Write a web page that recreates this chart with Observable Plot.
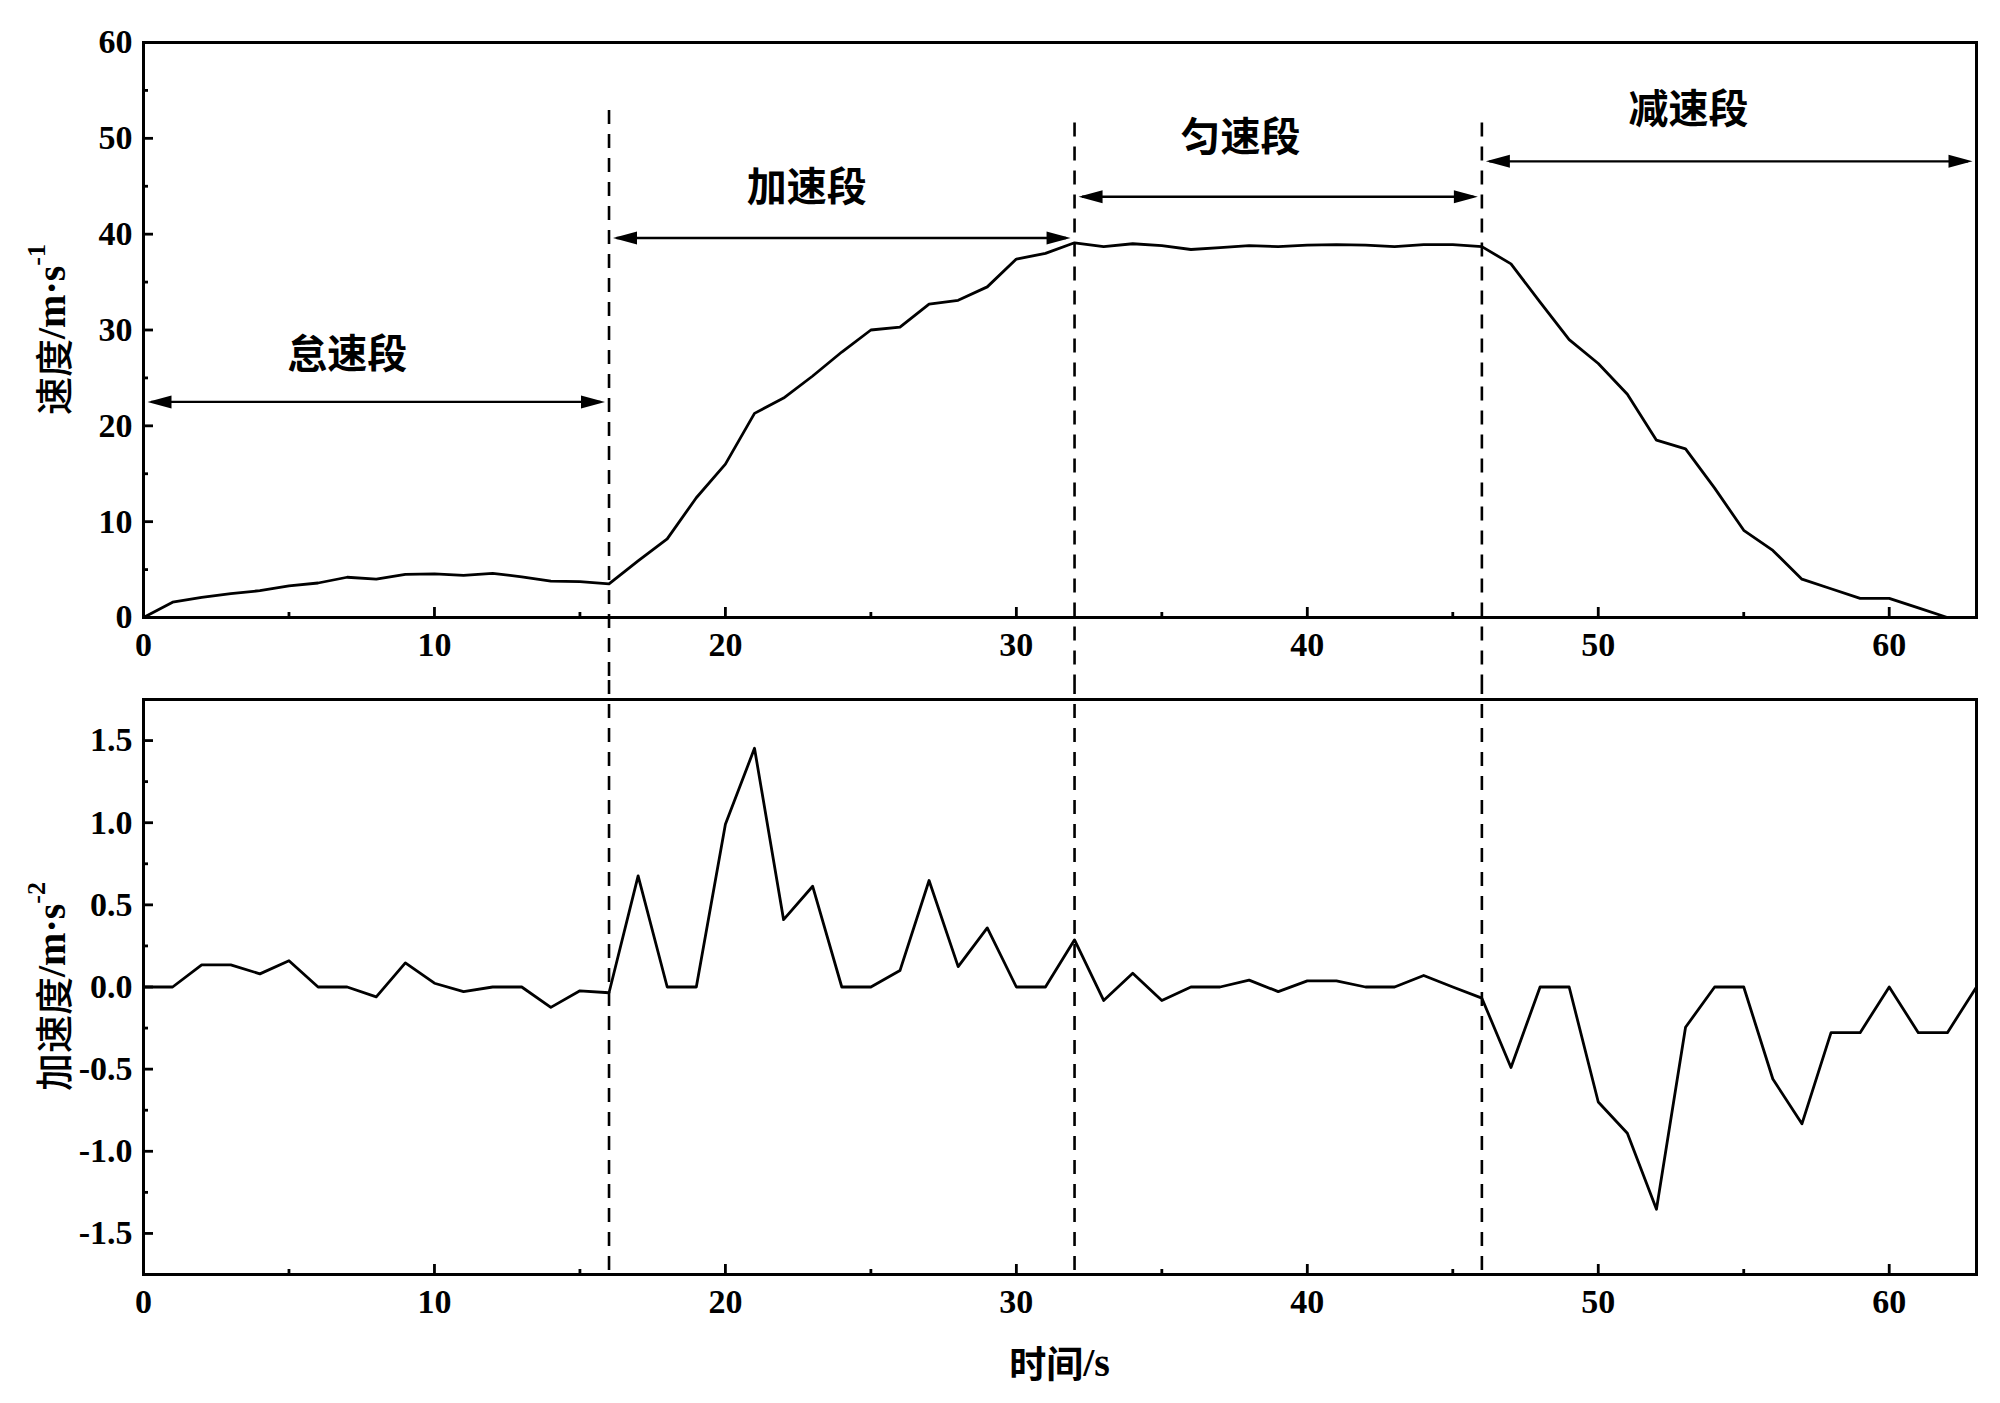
<!DOCTYPE html>
<html>
<head>
<meta charset="utf-8">
<script src="https://cdn.jsdelivr.net/npm/d3@7"></script>
<script src="https://cdn.jsdelivr.net/npm/@observablehq/plot@0.6"></script>
<style>
html, body { margin: 0; padding: 0; background: #fff; }
#chart { width: 2000px; height: 1403px; }
#chart svg { display: block; }
</style>
</head>
<body>
<div id="chart"></div>
<script>
// ---- data ----
const speedTime = [0,1,2,3,4,5,6,7,8,9,10,11,12,13,14,15,16,17,18,19,20,21,22,23,24,25,26,27,28,29,30,31,32,33,34,35,36,37,38,39,40,41,42,43,44,45,46,47,48,49,50,51,52,53,54,55,56,57,58,59,60,61,62];
const speed = [0,1.6,2.1,2.5,2.8,3.3,3.6,4.2,4.0,4.5,4.55,4.4,4.6,4.25,3.8,3.75,3.5,5.9,8.2,12.5,16.0,21.3,22.9,25.2,27.7,30.0,30.3,32.7,33.1,34.5,37.4,38.0,39.1,38.7,39.0,38.8,38.4,38.6,38.8,38.7,38.85,38.9,38.85,38.7,38.9,38.9,38.7,36.9,32.9,29.0,26.5,23.3,18.5,17.6,13.5,9.1,7.0,4.0,3.0,2.0,2.0,1.0,0];
const accelTime = [0,1,2,3,4,5,6,7,8,9,10,11,12,13,14,15,16,17,18,19,20,21,22,23,24,25,26,27,28,29,30,31,32,33,34,35,36,37,38,39,40,41,42,43,44,45,46,47,48,49,50,51,52,53,54,55,56,57,58,59,60,61,62,63];
const accel = [0,0,0.135,0.135,0.08,0.16,0,0,-0.06,0.147,0.023,-0.028,0,0,-0.124,-0.023,-0.035,0.676,0,0,0.99,1.453,0.41,0.613,0,0,0.10,0.648,0.124,0.36,0,0,0.287,-0.082,0.084,-0.082,0,0,0.042,-0.028,0.037,0.037,0,0,0.07,0.0,-0.068,-0.49,0,0,-0.70,-0.89,-1.353,-0.245,0,0,-0.56,-0.833,-0.278,-0.278,0,-0.278,-0.278,0];

const phaseNames = ["怠速段","加速段","匀速段","减速段"];
const phaseStart = [0,16,32,46];
const phaseEnd = [16,32,46,63];
const phaseLabelX = [7.0,22.8,37.7,53.1];
const phaseLabelY = [27.4,44.8,50.0,52.9];
const phaseArrowY = [22.5,39.6,43.9,47.6];

const boundaryX = [16,32,46];
const boundaryTop = [52.9,51.6,51.6];

const xMajor = [0,10,20,30,40,50,60];
const xMinor = [5,15,25,35,45,55];
const yMajorTop = [0,10,20,30,40,50,60];
const yMinorTop = [5,15,25,35,45,55];
const yMajorBot = [-1.5,-1.0,-0.5,0,0.5,1.0,1.5];
const yMinorBot = [-1.25,-0.75,-0.25,0.25,0.75,1.25];

const xDomain = [0,63];
const yDomainTop = [0,60];
const yDomainBot = [-1.75,1.75];

const yTitleTop = ["速度", "/m·s", "-1"];
const yTitleBot = ["加速度", "/m·s", "-2"];
const xTitle = ["时间", "/s"];

// ---- tables ----
const speedRows = speedTime.map((t, i) => ({t, v: speed[i]}));
const accelRows = accelTime.map((t, i) => ({t, v: accel[i]}));
const phaseRows = phaseNames.map((name, i) => ({
  name, start: phaseStart[i], end: phaseEnd[i],
  lx: phaseLabelX[i], ly: phaseLabelY[i], ay: phaseArrowY[i]
}));
const boundaryRows = boundaryX.map((x, i) => ({x, top: boundaryTop[i]}));

// ---- layout ----
const W = 2000;
const ML = 143, MR = 24;
const frameW = W - ML - MR;
const H1 = 680, MT1 = 42, MB1 = 63;
const H2 = 1403 - H1, MT2 = 19, MB2 = 129;
const frameH = 575;
const majorLen = 10, minorLen = 5;
const serif = "'Liberation Serif', 'Times New Roman', serif";
const cjk = "'Noto Sans CJK SC', sans-serif";

const arrowRight = {draw(ctx) { ctx.moveTo(0, 0); ctx.lineTo(-24, -6.5); ctx.lineTo(-24, 6.5); ctx.closePath(); }};
const arrowLeft = {draw(ctx) { ctx.moveTo(0, 0); ctx.lineTo(24, -6.5); ctx.lineTo(24, 6.5); ctx.closePath(); }};

const tickText = {fontSize: 34, fontWeight: "bold", fontFamily: serif, label: null};

function tickMarks(yMajor, yMinor, fh) {
  return [
    Plot.ruleX(xMajor, {x: d => d, insetTop: fh - majorLen, stroke: "#000", strokeWidth: 2.8}),
    Plot.ruleX(xMinor, {x: d => d, insetTop: fh - minorLen, stroke: "#000", strokeWidth: 2.8}),
    Plot.ruleY(yMajor, {y: d => d, insetRight: frameW - majorLen, stroke: "#000", strokeWidth: 2.8}),
    Plot.ruleY(yMinor, {y: d => d, insetRight: frameW - minorLen, stroke: "#000", strokeWidth: 2.8})
  ];
}

const topPlot = Plot.plot({
  width: W, height: H1,
  marginTop: MT1, marginBottom: MB1, marginLeft: ML, marginRight: MR,
  x: {domain: xDomain},
  y: {domain: yDomainTop},
  style: {background: "#fff", color: "#000", fontFamily: serif},
  marks: [
    Plot.axisX(xMajor, {...tickText, tickSize: 0, tickPadding: 14, tickFormat: d => String(d)}),
    Plot.axisY(yMajorTop, {...tickText, tickSize: 0, tickPadding: 11, tickFormat: d => String(d)}),
    ...tickMarks(yMajorTop, yMinorTop, frameH),
    Plot.ruleX(boundaryRows, {x: "x", y1: "top", y2: 0, insetBottom: -MB1, stroke: "#000", strokeWidth: 2.6, strokeDasharray: "14,10"}),
    Plot.ruleY(phaseRows, {y: "ay", x1: "start", x2: "end", insetLeft: 8, insetRight: 8, stroke: "#000", strokeWidth: 2.4}),
    Plot.dot(phaseRows, {x: "start", y: "ay", symbol: arrowLeft, fill: "#000", stroke: "none", dx: 4}),
    Plot.dot(phaseRows, {x: "end", y: "ay", symbol: arrowRight, fill: "#000", stroke: "none", dx: -4}),
    Plot.text(phaseRows, {x: "lx", y: "ly", text: "name", fontSize: 40, fontWeight: "bold", fontFamily: cjk, fill: "#000"}),
    Plot.line(speedRows, {x: "t", y: "v", stroke: "#000", strokeWidth: 2.8}),
    Plot.frame({stroke: "#000", strokeWidth: 3})
  ]
});

const botPlot = Plot.plot({
  width: W, height: H2,
  marginTop: MT2, marginBottom: MB2, marginLeft: ML, marginRight: MR,
  x: {domain: xDomain},
  y: {domain: yDomainBot},
  style: {background: "#fff", color: "#000", fontFamily: serif},
  marks: [
    Plot.axisX(xMajor, {...tickText, tickSize: 0, tickPadding: 14, tickFormat: d => String(d)}),
    Plot.axisY(yMajorBot, {...tickText, tickSize: 0, tickPadding: 11, tickFormat: d => d.toFixed(1)}),
    ...tickMarks(yMajorBot, yMinorBot, frameH),
    Plot.ruleX(boundaryRows, {x: "x", insetTop: -MT2, stroke: "#000", strokeWidth: 2.6, strokeDasharray: "14,10"}),
    Plot.line(accelRows, {x: "t", y: "v", stroke: "#000", strokeWidth: 2.8}),
    Plot.frame({stroke: "#000", strokeWidth: 3})
  ]
});

function addYTitle(svg, cx, cy, parts) {
  const t = d3.select(svg).append("text")
    .attr("transform", `translate(${cx},${cy}) rotate(-90)`)
    .attr("text-anchor", "middle")
    .attr("dominant-baseline", "central")
    .attr("fill", "#000");
  t.append("tspan").attr("font-family", cjk).attr("font-weight", 500).attr("font-size", 38).text(parts[0]);
  t.append("tspan").attr("font-family", serif).attr("font-weight", "bold").attr("font-size", 40).text(parts[1]);
  t.append("tspan").attr("font-family", serif).attr("font-weight", "bold").attr("font-size", 26).attr("baseline-shift", "super").text(parts[2]);
}

function addXTitle(svg, cx, cy, parts) {
  const t = d3.select(svg).append("text")
    .attr("x", cx).attr("y", cy)
    .attr("text-anchor", "middle")
    .attr("dominant-baseline", "central")
    .attr("fill", "#000");
  t.append("tspan").attr("font-family", cjk).attr("font-weight", "bold").attr("font-size", 37).text(parts[0]);
  t.append("tspan").attr("font-family", serif).attr("font-weight", "bold").attr("font-size", 40).text(parts[1]);
}

addYTitle(topPlot, 51, (MT1 + H1 - MB1) / 2, yTitleTop);
addYTitle(botPlot, 51, (MT2 + H2 - MB2) / 2, yTitleBot);
addXTitle(botPlot, ML + frameW / 2, 1362 - H1, xTitle);

const chart = document.getElementById("chart");
chart.appendChild(topPlot);
chart.appendChild(botPlot);
</script>
</body>
</html>
